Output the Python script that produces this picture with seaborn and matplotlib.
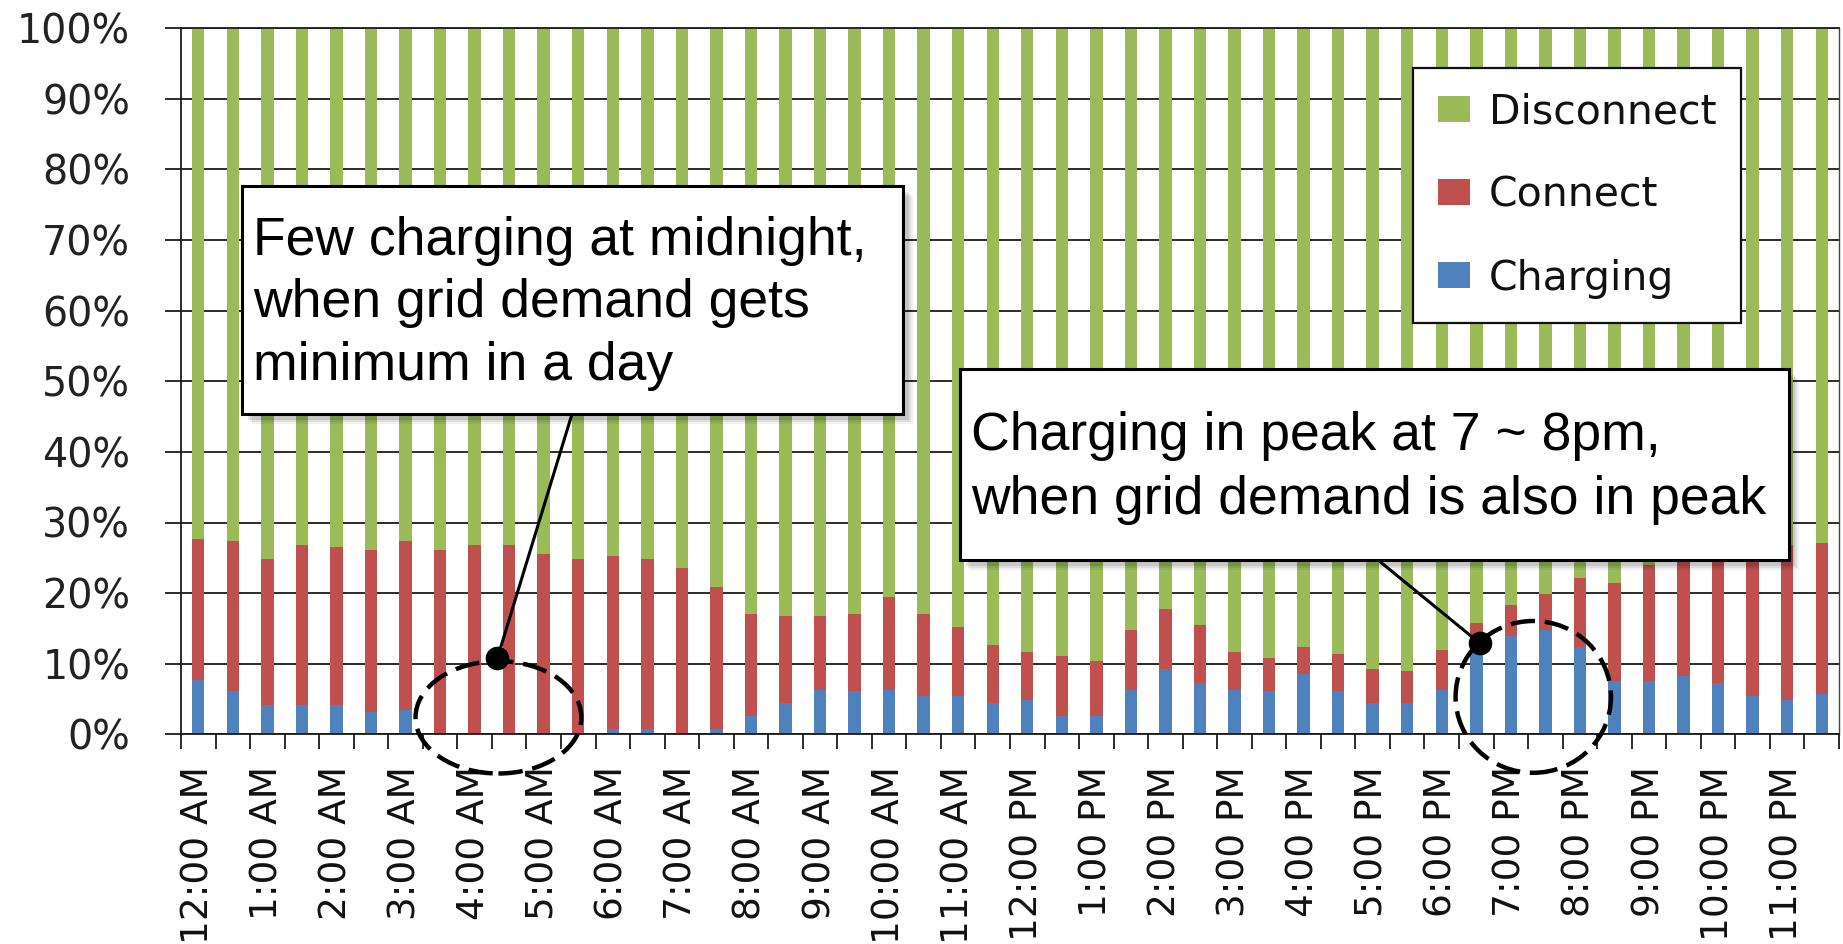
import numpy as np
import pandas as pd
import matplotlib
matplotlib.use("Agg")
import matplotlib.pyplot as plt
import seaborn as sns
from matplotlib.patches import Ellipse, Rectangle, Patch

# ---------------- data ----------------
slots = ["12:00 AM", "12:30 AM", "1:00 AM", "1:30 AM", "2:00 AM", "2:30 AM",
         "3:00 AM", "3:30 AM", "4:00 AM", "4:30 AM", "5:00 AM", "5:30 AM",
         "6:00 AM", "6:30 AM", "7:00 AM", "7:30 AM", "8:00 AM", "8:30 AM",
         "9:00 AM", "9:30 AM", "10:00 AM", "10:30 AM", "11:00 AM", "11:30 AM",
         "12:00 PM", "12:30 PM", "1:00 PM", "1:30 PM", "2:00 PM", "2:30 PM",
         "3:00 PM", "3:30 PM", "4:00 PM", "4:30 PM", "5:00 PM", "5:30 PM",
         "6:00 PM", "6:30 PM", "7:00 PM", "7:30 PM", "8:00 PM", "8:30 PM",
         "9:00 PM", "9:30 PM", "10:00 PM", "10:30 PM", "11:00 PM", "11:30 PM"]

tick_labels = ["12:00 AM", "1:00 AM", "2:00 AM", "3:00 AM", "4:00 AM", "5:00 AM",
               "6:00 AM", "7:00 AM", "8:00 AM", "9:00 AM", "10:00 AM", "11:00 AM",
               "12:00 PM", "1:00 PM", "2:00 PM", "3:00 PM", "4:00 PM", "5:00 PM",
               "6:00 PM", "7:00 PM", "8:00 PM", "9:00 PM", "10:00 PM", "11:00 PM"]

charging = [7.7, 6.1, 4.1, 4.1, 4.1, 3.2, 3.5, 0.0, 0.0, 0.0, 0.0, 0.0,
            0.7, 0.7, 0.0, 0.7, 2.6, 4.5, 6.3, 6.1, 6.3, 5.4, 5.4, 4.5,
            4.8, 2.6, 2.6, 6.3, 9.2, 7.3, 6.3, 6.1, 8.5, 6.1, 4.5, 4.5,
            6.3, 11.4, 13.9, 14.8, 12.3, 7.6, 7.6, 8.3, 7.3, 5.4, 4.8, 5.7]

connect = [20.0, 21.3, 20.8, 22.7, 22.4, 22.9, 23.9, 26.1, 26.8, 26.8, 25.5, 24.9,
           24.5, 24.2, 23.6, 20.1, 14.4, 12.2, 10.4, 10.9, 13.2, 11.6, 9.8, 8.2,
           6.9, 8.5, 7.8, 8.5, 8.5, 8.2, 5.4, 4.7, 3.8, 5.3, 4.7, 4.4,
           5.7, 4.4, 4.4, 5.1, 9.8, 13.8, 16.4, 17.0, 18.5, 20.9, 22.0, 21.4]

series_names = ["Disconnect", "Connect", "Charging"]
colors = {"Disconnect": "#9BBB59", "Connect": "#C0504D", "Charging": "#4F81BD"}

y_ticks = [0, 10, 20, 30, 40, 50, 60, 70, 80, 90, 100]
y_tick_labels = ["0%", "10%", "20%", "30%", "40%", "50%", "60%", "70%", "80%", "90%", "100%"]

# 100% stacked: disconnect is the remainder of each slot
df = pd.DataFrame({"slot": slots, "Charging": charging, "Connect": connect})
df["Disconnect"] = 100.0 - df["Charging"] - df["Connect"]
df["top_charging"] = df["Charging"]
df["top_connect"] = df["Charging"] + df["Connect"]
df["top_disconnect"] = df["top_connect"] + df["Disconnect"]

# ---------------- figure ----------------
sns.set_theme(style="white")
plt.rcParams["font.family"] = ["DejaVu Sans"]

W, H = 1843, 944
fig = plt.figure(figsize=(W / 100, H / 100), dpi=100)
ax = fig.add_axes([181 / W, 1 - 734.3 / H, (1839 - 181) / W, (734.3 - 28.3) / H])

BW = 0.36
for col, name in [("top_disconnect", "Disconnect"), ("top_connect", "Connect"),
                  ("top_charging", "Charging")]:
    sns.barplot(data=df, x="slot", y=col, order=slots, color=colors[name],
                saturation=1, width=BW, errorbar=None, ax=ax, linewidth=0)

ax.set_xlim(-0.5, len(slots) - 0.5)
ax.set_ylim(0, 100)
ax.set_xlabel("")
ax.set_ylabel("")

# y axis
ax.set_yticks(y_ticks)
ax.set_yticklabels(y_tick_labels, fontsize=28.5, color="#222222")
ax.yaxis.grid(True, color="#1a1a1a", linewidth=1.3)
ax.set_axisbelow(True)
ax.tick_params(axis="y", which="major", direction="out", length=11.5, width=1.3,
               color="#1a1a1a", pad=25, left=True)

# x axis: boundary ticks + labels every hour
label_pos = [slots.index(t) for t in tick_labels]
ax.set_xticks(label_pos)
ax.set_xticklabels(tick_labels, rotation=90, fontsize=27, color="#111111")
ax.set_xticks(np.arange(-0.5, len(slots), 1.0), minor=True)
ax.tick_params(axis="x", which="major", length=0, pad=23, bottom=True)
ax.tick_params(axis="x", which="minor", direction="out", length=11, width=1.3,
               color="#1a1a1a", bottom=True)
for lab in ax.get_xticklabels():
    lab.set_verticalalignment("top")

for side in ["left", "bottom", "top"]:
    ax.spines[side].set_visible(True)
    ax.spines[side].set_color("#1a1a1a")
    ax.spines[side].set_linewidth(1.3)
ax.spines["right"].set_visible(True)
ax.spines["right"].set_color("#444444")
ax.spines["right"].set_linewidth(1.0)

# legend
handles = [Patch(facecolor=colors[n], edgecolor="none", label=n) for n in series_names]
leg = fig.legend(handles=handles, loc="upper left",
                 bbox_to_anchor=(1413 / W, 1 - 68 / H), bbox_transform=fig.transFigure,
                 fontsize=29.5, frameon=True, fancybox=False, framealpha=1,
                 edgecolor="#111111", handlelength=0.8, handleheight=0.6,
                 handletextpad=0.45, labelspacing=1.05, borderpad=0.6,
                 borderaxespad=0)
leg.get_frame().set_linewidth(1.6)
for t in leg.get_texts():
    t.set_color("#111111")


# ---------------- annotations ----------------
def px_box(x0, y0, x1, y1):
    # shadow
    for k, a in [(10, 0.06), (8, 0.08), (6, 0.10)]:
        fig.add_artist(Rectangle((((x0 + k) / W), 1 - (y1 + k) / H), (x1 - x0) / W, (y1 - y0) / H,
                                 transform=fig.transFigure, facecolor="black", alpha=a,
                                 edgecolor="none", zorder=9))
    fig.add_artist(Rectangle((x0 / W, 1 - y1 / H), (x1 - x0) / W, (y1 - y0) / H,
                             transform=fig.transFigure, facecolor="white",
                             edgecolor="black", linewidth=2.2, zorder=10))


ann_font = ["Liberation Sans", "DejaVu Sans"]

# box 1
px_box(242, 186, 903, 414)
for txt, yc in [("Few charging at midnight,", 241), ("when grid demand gets", 303),
                ("minimum in a day", 366)]:
    fig.text(253 / W, 1 - yc / H, txt, fontsize=38.5, family=ann_font,
             va="center", ha="left", color="black", zorder=11)

# box 2
px_box(960, 369, 1789, 560)
for txt, yc in [("Charging in peak at 7 ~ 8pm,", 436),
                ("when grid demand is also in peak", 500)]:
    fig.text(971 / W, 1 - yc / H, txt, fontsize=38.5, family=ann_font,
             va="center", ha="left", color="black", zorder=11)

# connectors, dots and dashed ellipses
for (bx, by), (dx, dy), (ex, ey, ew, eh) in [
        ((572, 414), (8.66, 10.8), (8.69, 2.4, 4.8, 15.9)),
        ((1378, 560), (37.1, 12.9), (38.65, 5.3, 4.5, 21.5))]:
    ax.annotate("", xy=(dx, dy), xycoords="data",
                xytext=(bx / W, 1 - by / H), textcoords="figure fraction",
                arrowprops=dict(arrowstyle="-", lw=2.2, color="black",
                                shrinkA=0, shrinkB=0), zorder=8, annotation_clip=False)
    ax.plot([dx], [dy], "o", color="black", markersize=16, clip_on=False, zorder=12)
    ax.add_patch(Ellipse((ex, ey), ew, eh, fill=False, edgecolor="black",
                         linewidth=3.2, linestyle=(0, (5.5, 2.2)), clip_on=False, zorder=7))

fig.savefig("out.png", dpi=100)
